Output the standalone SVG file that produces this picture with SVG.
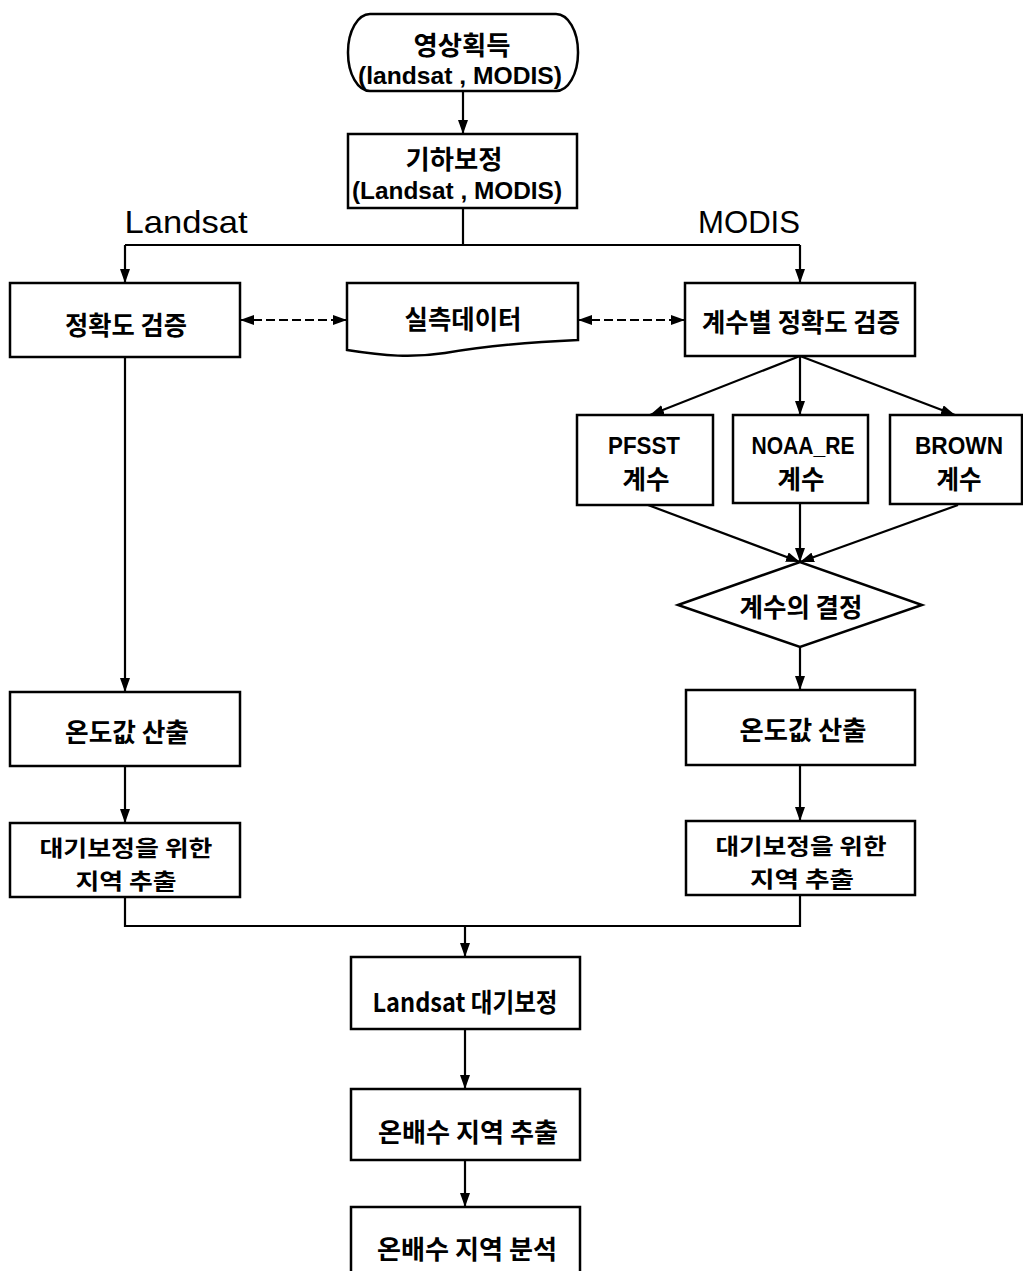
<svg xmlns="http://www.w3.org/2000/svg" width="1023" height="1271" viewBox="0 0 1023 1271">
<style>
.box{fill:#fff;stroke:#000;stroke-width:2.5}
.ln{fill:none;stroke:#000;stroke-width:2.2}
.dash{fill:none;stroke:#000;stroke-width:2;stroke-dasharray:9 4}
.ko{font-family:"Noto Sans CJK KR","Noto Sans",sans-serif;font-weight:700;font-size:26px;fill:#000;text-anchor:middle;dominant-baseline:central}
.ko2{font-family:"Noto Sans CJK KR","Noto Sans",sans-serif;font-weight:700;font-size:22px;fill:#000;text-anchor:middle;dominant-baseline:central}
.en{font-family:"Liberation Sans","Noto Sans CJK KR",sans-serif;font-weight:700;font-size:24px;fill:#000;text-anchor:middle;dominant-baseline:central}
.lbl{font-family:"Liberation Sans",sans-serif;font-size:32px;fill:#000;text-anchor:middle;dominant-baseline:central}
</style>
<defs>
<marker id="ah" viewBox="0 0 14 10" refX="14" refY="5" markerWidth="14" markerHeight="10" markerUnits="userSpaceOnUse" orient="auto-start-reverse">
<path d="M0,0 L14,5 L0,10 Z" fill="#000"/>
</marker>
</defs>

<g id="connectors">
<line class="ln" x1="463" y1="91" x2="463" y2="134" marker-end="url(#ah)"/>
<polyline class="ln" points="463,208 463,245"/>
<line class="ln" x1="125" y1="245" x2="800" y2="245"/>
<line class="ln" x1="125" y1="245" x2="125" y2="283" marker-end="url(#ah)"/>
<line class="ln" x1="800" y1="245" x2="800" y2="283" marker-end="url(#ah)"/>
<line class="dash" x1="240" y1="320" x2="347" y2="320" marker-start="url(#ah)" marker-end="url(#ah)"/>
<line class="dash" x1="578" y1="320" x2="685" y2="320" marker-start="url(#ah)" marker-end="url(#ah)"/>
<line class="ln" x1="800" y1="356" x2="650" y2="415" marker-end="url(#ah)"/>
<line class="ln" x1="800" y1="356" x2="800" y2="415" marker-end="url(#ah)"/>
<line class="ln" x1="800" y1="356" x2="955" y2="415" marker-end="url(#ah)"/>
<line class="ln" x1="648" y1="505" x2="800" y2="562" marker-end="url(#ah)"/>
<line class="ln" x1="800" y1="503" x2="800" y2="562" marker-end="url(#ah)"/>
<line class="ln" x1="958" y1="505" x2="800" y2="562" marker-end="url(#ah)"/>
<line class="ln" x1="800" y1="647" x2="800" y2="690" marker-end="url(#ah)"/>
<line class="ln" x1="125" y1="357" x2="125" y2="692" marker-end="url(#ah)"/>
<line class="ln" x1="125" y1="766" x2="125" y2="823" marker-end="url(#ah)"/>
<line class="ln" x1="800" y1="765" x2="800" y2="821" marker-end="url(#ah)"/>
<polyline class="ln" points="125,897 125,926 800,926 800,895"/>
<line class="ln" x1="465" y1="926" x2="465" y2="957" marker-end="url(#ah)"/>
<line class="ln" x1="465" y1="1029" x2="465" y2="1089" marker-end="url(#ah)"/>
<line class="ln" x1="465" y1="1160" x2="465" y2="1207" marker-end="url(#ah)"/>
</g>

<g id="labels">
<text class="lbl" x="186" y="222" textLength="123" lengthAdjust="spacingAndGlyphs">Landsat</text>
<text class="lbl" x="749" y="222" textLength="102" lengthAdjust="spacingAndGlyphs">MODIS</text>
</g>

<g id="n1">
<rect class="box" x="348" y="14" width="230" height="77" rx="22" ry="38"/>
<text class="ko" x="462" y="43" textLength="97" lengthAdjust="spacingAndGlyphs">영상획득</text>
<text class="en" x="460" y="75" textLength="204" lengthAdjust="spacingAndGlyphs">(landsat , MODIS)</text>
</g>
<g id="n2">
<rect class="box" x="348" y="134" width="229" height="74"/>
<text class="ko" x="454" y="157" textLength="97" lengthAdjust="spacingAndGlyphs">기하보정</text>
<text class="en" x="457" y="190" textLength="210" lengthAdjust="spacingAndGlyphs">(Landsat , MODIS)</text>
</g>
<g id="n3">
<rect class="box" x="10" y="283" width="230" height="74"/>
<text class="ko" x="126" y="323" textLength="122" lengthAdjust="spacingAndGlyphs">정확도 검증</text>
</g>
<g id="n4">
<path class="box" d="M347,283 L578,283 L578,340 C530,342 480,347 445,353 C412,358 385,356 347,350 Z"/>
<text class="ko" x="463" y="317" textLength="117" lengthAdjust="spacingAndGlyphs">실측데이터</text>
</g>
<g id="n5">
<rect class="box" x="685" y="283" width="230" height="73"/>
<text class="ko" x="801" y="320" textLength="198" lengthAdjust="spacingAndGlyphs">계수별 정확도 검증</text>
</g>
<g id="n6">
<rect class="box" x="577" y="415" width="136" height="90"/>
<text class="en" x="644" y="445" textLength="72" lengthAdjust="spacingAndGlyphs">PFSST</text>
<text class="ko" x="646" y="477" textLength="47" lengthAdjust="spacingAndGlyphs">계수</text>
</g>
<g id="n7">
<rect class="box" x="733" y="415" width="135" height="88"/>
<text class="en" x="803" y="445" textLength="103" lengthAdjust="spacingAndGlyphs">NOAA_RE</text>
<text class="ko" x="801" y="477" textLength="47" lengthAdjust="spacingAndGlyphs">계수</text>
</g>
<g id="n8">
<rect class="box" x="890" y="415" width="132" height="89"/>
<text class="en" x="959" y="445" textLength="88" lengthAdjust="spacingAndGlyphs">BROWN</text>
<text class="ko" x="959" y="477" textLength="45" lengthAdjust="spacingAndGlyphs">계수</text>
</g>
<g id="n9">
<polygon class="box" points="678,605 800,562 922,605 800,647"/>
<text class="ko" x="801" y="605" textLength="123" lengthAdjust="spacingAndGlyphs">계수의 결정</text>
</g>
<g id="n10">
<rect class="box" x="10" y="692" width="230" height="74"/>
<text class="ko" x="127" y="730" textLength="124" lengthAdjust="spacingAndGlyphs">온도값 산출</text>
</g>
<g id="n11">
<rect class="box" x="686" y="690" width="229" height="75"/>
<text class="ko" x="803" y="728" textLength="127" lengthAdjust="spacingAndGlyphs">온도값 산출</text>
</g>
<g id="n12">
<rect class="box" x="10" y="823" width="230" height="74"/>
<text class="ko2" x="126" y="846" textLength="173" lengthAdjust="spacingAndGlyphs">대기보정을 위한</text>
<text class="ko2" x="126" y="879" textLength="101" lengthAdjust="spacingAndGlyphs">지역 추출</text>
</g>
<g id="n13">
<rect class="box" x="686" y="821" width="229" height="74"/>
<text class="ko2" x="801" y="844" textLength="171" lengthAdjust="spacingAndGlyphs">대기보정을 위한</text>
<text class="ko2" x="802" y="877" textLength="104" lengthAdjust="spacingAndGlyphs">지역 추출</text>
</g>
<g id="n14">
<rect class="box" x="351" y="957" width="229" height="72"/>
<text class="ko" x="465" y="1000" textLength="185" lengthAdjust="spacingAndGlyphs">Landsat 대기보정</text>
</g>
<g id="n15">
<rect class="box" x="351" y="1089" width="229" height="71"/>
<text class="ko" x="468" y="1130" textLength="180" lengthAdjust="spacingAndGlyphs">온배수 지역 추출</text>
</g>
<g id="n16">
<rect class="box" x="351" y="1207" width="229" height="70"/>
<text class="ko" x="467" y="1247" textLength="180" lengthAdjust="spacingAndGlyphs">온배수 지역 분석</text>
</g>
</svg>
